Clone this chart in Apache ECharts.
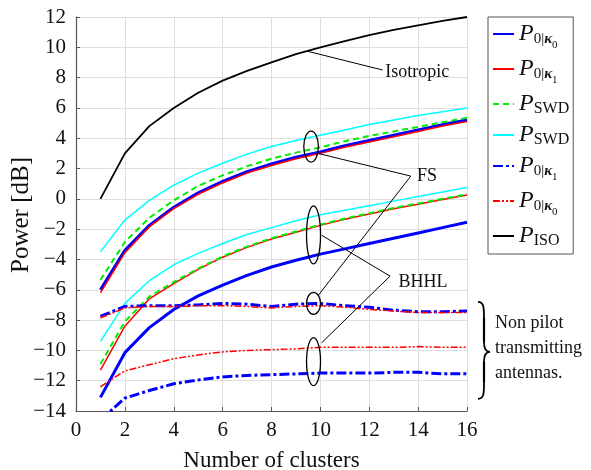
<!DOCTYPE html>
<html><head><meta charset="utf-8">
<script src="https://cdn.jsdelivr.net/npm/echarts@6/dist/echarts.min.js"></script>
<style>html,body{margin:0;padding:0;background:#fff}#c{width:591px;height:470px}</style>
</head><body><div id="c"></div>
<script>
const xs = [1,2,3,4,5,6,7,8,9,10,11,12,13,14,15,16];
const xTicks = [0,2,4,6,8,10,12,14,16];
const yTicks = [-14,-12,-10,-8,-6,-4,-2,0,2,4,6,8,10,12];

const iso      = [0, 3.0, 4.8, 6.0, 7.0, 7.8, 8.45, 9.0, 9.55, 10.0, 10.4, 10.8, 11.15, 11.45, 11.75, 12.0];
const fsBlue   = [-6.0, -3.4, -1.75, -0.55, 0.4, 1.15, 1.8, 2.3, 2.75, 3.1, 3.5, 3.85, 4.2, 4.55, 4.9, 5.2];
const fsRed    = [-6.2, -3.55, -1.85, -0.65, 0.3, 1.05, 1.7, 2.2, 2.65, 3.0, 3.4, 3.75, 4.1, 4.45, 4.8, 5.1];
const fsGreen  = [-5.35, -2.85, -1.25, -0.1, 0.85, 1.55, 2.15, 2.65, 3.05, 3.4, 3.8, 4.15, 4.45, 4.75, 5.05, 5.35];
const fsCyan   = [-3.5, -1.4, -0.1, 0.9, 1.7, 2.35, 2.95, 3.45, 3.85, 4.2, 4.55, 4.9, 5.2, 5.5, 5.75, 6.0];
const bhCyan   = [-9.4, -6.9, -5.4, -4.35, -3.6, -2.95, -2.35, -1.9, -1.45, -1.05, -0.75, -0.45, -0.15, 0.15, 0.45, 0.75];
const bhRed    = [-11.3, -8.4, -6.6, -5.6, -4.65, -3.85, -3.2, -2.65, -2.2, -1.75, -1.35, -1.0, -0.65, -0.35, -0.05, 0.25];
const bhGreen  = [-10.9, -8.1, -6.45, -5.5, -4.6, -3.8, -3.15, -2.6, -2.15, -1.7, -1.3, -0.95, -0.6, -0.3, 0.0, 0.3];
const bhBlue   = [-13.1, -10.15, -8.5, -7.3, -6.4, -5.7, -5.05, -4.5, -4.05, -3.65, -3.3, -2.95, -2.6, -2.25, -1.9, -1.55];
const npBlueHi = [-7.75, -7.1, -7.05, -7.05, -7.0, -6.9, -6.95, -7.1, -6.95, -6.9, -7.05, -7.15, -7.35, -7.45, -7.45, -7.4];
const npRedHi  = [-7.85, -7.2, -7.1, -7.1, -7.05, -7.05, -7.1, -7.2, -7.1, -7.05, -7.15, -7.3, -7.4, -7.5, -7.5, -7.5];
const npRedLo  = [-12.4, -11.35, -10.95, -10.55, -10.3, -10.1, -10.0, -9.95, -9.9, -9.8, -9.8, -9.8, -9.8, -9.75, -9.8, -9.8];
const npBlueLo = [-14.6, -13.15, -12.65, -12.2, -11.95, -11.75, -11.65, -11.6, -11.55, -11.5, -11.5, -11.5, -11.45, -11.45, -11.55, -11.55];

const serif = "'Liberation Serif','DejaVu Serif',serif";
const pair = a => xs.map((x,i)=>[x,a[i]]);

const styles = {
  a: {color:'#0000ff', width:3, type:'solid'},
  b: {color:'#ff0000', width:1.5, type:'solid'},
  c: {color:'#00ee00', width:2, type:[6,4]},
  d: {color:'#00ffff', width:1.5, type:'solid'},
  e: {color:'#0000ff', width:3, type:[10,3,3,3]},
  f: {color:'#ff0000', width:1.5, type:[7,2,2,2,2,2]},
  g: {color:'#000000', width:1.8, type:'solid'}
};
const labels = {
  a: '{p|P}{s|0|}{k|κ}{z|0}',
  b: '{p|P}{s|0|}{k|κ}{z|1}',
  c: '{p|P}{r|SWD}',
  d: '{p|P}{r|SWD}',
  e: '{p|P}{s|0|}{k|κ}{z|1}',
  f: '{p|P}{s|0|}{k|κ}{z|0}',
  g: '{p|P}{r|ISO}'
};
function mk(name, arr){
  const st = styles[name];
  return {type:'line', name, data: pair(arr), symbol:'none', showSymbol:false,
    lineStyle:{color:st.color, width:st.width, type:st.type}, itemStyle:{color:st.color},
    animation:false, clip:true};
}
const series = [
  mk('a', fsBlue), mk('b', fsRed), mk('c', fsGreen), mk('d', fsCyan),
  mk('a', bhBlue), mk('b', bhRed), mk('c', bhGreen), mk('d', bhCyan),
  mk('e', npBlueHi), mk('e', npBlueLo), mk('f', npRedHi), mk('f', npRedLo),
  mk('g', iso)
];

const chart = echarts.init(document.getElementById('c'), null, {renderer:'canvas'});
const axisCommon = {
  axisLine:{show:true, onZero:false, lineStyle:{color:'#555', width:1.2}},
  axisTick:{show:true, inside:true, length:4, lineStyle:{color:'#555'}},
  splitLine:{show:true, lineStyle:{color:'#dedede', width:1}},
  axisLabel:{color:'#111', fontFamily:serif, fontSize:21}
};
chart.setOption({
  animation:false,
  grid:{left:76, right:124, top:17, bottom:59, containLabel:false, outerBoundsMode:'none'},
  xAxis:Object.assign({type:'value', min:xTicks[0], max:xTicks[xTicks.length-1], interval:2,
    name:'Number of clusters', nameLocation:'middle', nameGap:38,
    nameTextStyle:{fontFamily:serif, fontSize:23, color:'#111'}}, axisCommon,
    {axisLabel:Object.assign({}, axisCommon.axisLabel, {margin:9})}),
  yAxis:Object.assign({type:'value', min:yTicks[0], max:yTicks[yTicks.length-1], interval:2},
    axisCommon,
    {axisLabel:Object.assign({}, axisCommon.axisLabel, {margin:10,
      formatter: v => v < 0 ? '\u2212' + (-v) : String(v)})}),
  legend:{
    orient:'vertical', left:488, top:17, data:['a','b','c','d','e','f','g'],
    itemWidth:21, itemHeight:12, itemGap:5,
    padding:[4,4,5,4],
    borderColor:'#555', borderWidth:1, backgroundColor:'#fff',
    itemStyle:{opacity:0, borderWidth:0},
    formatter: n => labels[n],
    textStyle:{color:'#111', fontFamily:serif, fontSize:22, lineHeight:26,
      rich:{
        p:{fontFamily:serif, fontStyle:'italic', fontSize:24, lineHeight:26, color:'#111'},
        s:{fontFamily:serif, fontSize:15, lineHeight:26, verticalAlign:'bottom', color:'#111'},
        k:{fontFamily:serif, fontStyle:'italic', fontWeight:'bold', fontSize:15, lineHeight:26, verticalAlign:'bottom', color:'#111'},
        z:{fontFamily:serif, fontSize:11, lineHeight:26, verticalAlign:'bottom', padding:[0,0,-4,0], color:'#111'},
        r:{fontFamily:serif, fontSize:16, lineHeight:26, verticalAlign:'bottom', color:'#111'}
      }}
  },
  series
});

// annotations anchored in data coordinates
const P = (x,y) => chart.convertToPixel({gridIndex:0}, [x,y]);
const ellipses = [
  {c:[9.62, 3.45], rx:7.3, ry:15.5},
  {c:[9.72, -2.38], rx:7, ry:29},
  {c:[9.72, -6.9], rx:7, ry:11},
  {c:[9.72, -10.74], rx:7, ry:24}
];
const lines = [
  [[9.45, 9.75], [12.55, 8.5]],
  [[9.9, 3.0], [13.7, 1.5]],
  [[13.7, 1.5], [9.9, -6.4]],
  [[10.05, -2.4], [12.85, -5.1]],
  [[12.85, -5.1], [10.05, -9.5]]
];
const texts = [
  {at:[12.65, 8.35], t:'Isotropic'},
  {at:[13.95, 1.5], t:'FS'},
  {at:[13.2, -5.5], t:'BHHL'}
];
const g = [];
// y-axis title
const yMid = (P(0, yTicks[0])[1] + P(0, yTicks[yTicks.length-1])[1]) / 2;
g.push({type:'text', x:21, y:yMid + 1, rotation:Math.PI/2,
  style:{text:'Power [dB]', fill:'#111', font:'25px ' + serif, align:'center', verticalAlign:'middle'}, z:101});
ellipses.forEach(e => { const p = P(e.c[0], e.c[1]);
  g.push({type:'ellipse', shape:{cx:p[0], cy:p[1], rx:e.rx, ry:e.ry},
    style:{fill:null, stroke:'#000', lineWidth:1.3}, z:100}); });
lines.forEach(l => { const a = P(l[0][0], l[0][1]), b = P(l[1][0], l[1][1]);
  g.push({type:'line', shape:{x1:a[0], y1:a[1], x2:b[0], y2:b[1]},
    style:{stroke:'#000', lineWidth:1}, z:100}); });
texts.forEach(t => { const p = P(t.at[0], t.at[1]);
  g.push({type:'text', x:p[0], y:p[1], style:{text:t.t, fill:'#111', font:'18px ' + serif,
    textVerticalAlign:'middle'}, z:101}); });
// brace + note
const bt = P(16, -7.0), bb = P(16, -13.2);
const bx = bt[0] + 11, ym = (bt[1] + bb[1]) / 2, yT = bt[1] - 3, yB = bb[1];
const bz = (x1,y1,c1x,c1y,c2x,c2y,x2,y2) => ({type:'bezierCurve',
  shape:{x1, y1, cpx1:c1x, cpy1:c1y, cpx2:c2x, cpy2:c2y, x2, y2},
  style:{fill:null, stroke:'#000', lineWidth:1.8}, z:100});
const ln = (x1,y1,x2,y2,w) => ({type:'line', shape:{x1,y1,x2,y2}, style:{stroke:'#000', lineWidth:w}, z:100});
g.push(bz(bx, yT, bx+6, yT, bx+6, yT+6, bx+6, yT+16));
g.push(ln(bx+6, yT+16, bx+6, ym-10, 2.2));
g.push(bz(bx+6, ym-10, bx+6, ym-3, bx+8, ym, bx+12, ym));
g.push(bz(bx+12, ym, bx+8, ym, bx+6, ym+3, bx+6, ym+10));
g.push(ln(bx+6, ym+10, bx+6, yB-16, 2.2));
g.push(bz(bx+6, yB-16, bx+6, yB-6, bx+6, yB, bx, yB));
['Non pilot','transmitting','antennas.'].forEach((s,i) => {
  g.push({type:'text', x:bx+17, y:ym - 29 + i*25, style:{text:s, fill:'#111', font:'18px ' + serif,
    textVerticalAlign:'middle'}, z:101});
});
chart.setOption({graphic:g});
</script></body></html>
